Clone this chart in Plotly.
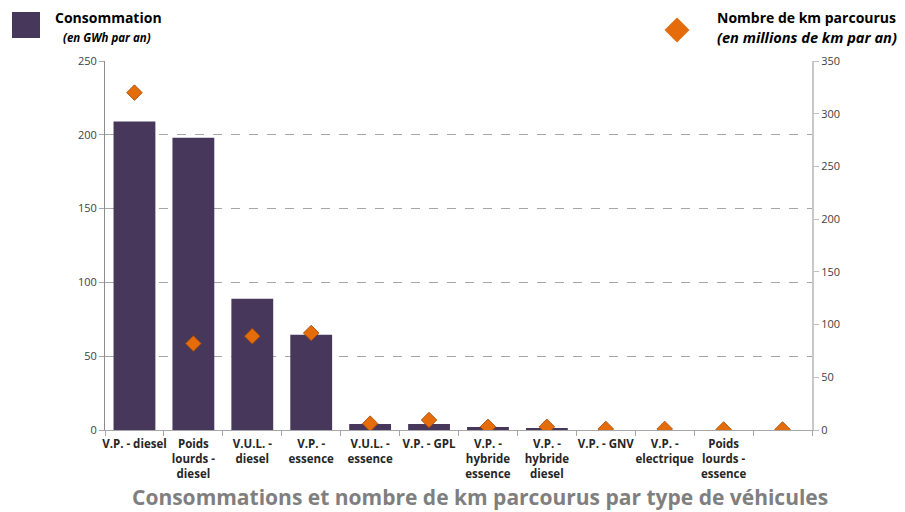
import plotly.graph_objects as go

categories = ["V.P. - diesel", "Poids<br>lourds -<br>diesel", "V.U.L. -<br>diesel", "V.P. -<br>essence",
              "V.U.L. -<br>essence", "V.P. - GPL", "V.P. -<br>hybride<br>essence", "V.P. -<br>hybride<br>diesel",
              "V.P. - GNV", "V.P. -<br>electrique", "Poids<br>lourds -<br>essence", " "]
consommation = [209, 198, 89, 64.5, 4, 4, 2, 1.2, 0, 0, 0, 0]
km_parcourus = [320, 82, 89, 92, 6, 9.5, 3, 3, 1, 1, 0.5, 0.5]

BAR = "#47375A"
ORANGE = "#E46C0A"
FONT = "Open Sans"

L, R, T, B = 105, 93, 61, 82
W, H = 905, 512
PW, PH = W - L - R, H - T - B

def px(x):
    return (x - L) / PW

def py(y):
    return (T + PH - y) / PH

fig = go.Figure()
fig.add_trace(go.Bar(x=categories, y=consommation, marker=dict(color=BAR, line=dict(width=0)),
                     width=0.71, showlegend=False, name="Consommation"))
fig.add_trace(go.Scatter(x=categories, y=km_parcourus, yaxis="y2", mode="markers",
                         marker=dict(symbol="diamond", size=12, color=ORANGE,
                                     line=dict(color="#A04A08", width=0.8)),
                         showlegend=False, name="Nombre de km parcourus"))

fig.update_layout(
    width=W, height=H,
    margin=dict(l=L, r=R, t=T, b=B),
    plot_bgcolor="white", paper_bgcolor="white",
    font=dict(family=FONT, color="#404040", size=11),
    xaxis=dict(type="category", range=[-0.5, len(categories) - 0.5], tickson="boundaries",
               ticks="outside", ticklen=5, ticklabelstandoff=3,
               tickcolor="#A6A6A6", showline=True, linecolor="#A6A6A6", linewidth=1,
               showgrid=False, tickfont=dict(family=FONT, size=11.5, color="#262626", weight="bold"),
               tickangle=0),
    yaxis=dict(range=[0, 250], dtick=50, ticks="outside", ticklen=5, tickcolor="#A6A6A6",
               showline=True, linecolor="#8C8C8C", linewidth=1, showgrid=True,
               gridcolor="#A6A6A6", griddash="dash", gridwidth=1, zeroline=False,
               tickfont=dict(size=11, color="#404040")),
    yaxis2=dict(range=[0, 350], dtick=50, overlaying="y", side="right", ticks="outside",
                ticklen=5, tickcolor="#BFBFBF", showline=True, linecolor="#C8C8C8", linewidth=2,
                showgrid=False, zeroline=False, tickfont=dict(size=11, color="#404040")),
)

shapes = [
    dict(type="rect", xref="paper", yref="paper", x0=px(12), x1=px(40), y0=py(38), y1=py(12),
         fillcolor=BAR, line=dict(width=0)),
    dict(type="path", xref="paper", yref="paper", xsizemode="pixel", ysizemode="pixel",
         xanchor=px(677), yanchor=py(30), path="M -12.5 0 L 0 12.5 L 12.5 0 L 0 -12.5 Z",
         fillcolor=ORANGE, line=dict(width=0)),
]
fig.update_layout(shapes=shapes)

ann = [
    dict(text="<b>Consommation</b>", x=px(53), y=py(18), xanchor="left", yanchor="middle",
         font=dict(size=14, color="#000000")),
    dict(text="<b><i>(en GWh par an)</i></b>", x=px(107), y=py(37), xanchor="center", yanchor="middle",
         font=dict(size=11.5, color="#000000")),
    dict(text="<b>Nombre de km parcourus</b>", x=px(898), y=py(17), xanchor="right", yanchor="middle",
         font=dict(size=14, color="#000000")),
    dict(text="<b><i>(en millions de km par an)</i></b>", x=px(899), y=py(37), xanchor="right",
         yanchor="middle", font=dict(size=14.6, color="#000000")),
    dict(text="<b>Consommations et nombre de km parcourus par type de véhicules</b>", x=px(480),
         y=py(497), xanchor="center", yanchor="middle", font=dict(size=21, color="#7F7F7F")),
]
for a in ann:
    a.update(xref="paper", yref="paper", showarrow=False)
fig.update_layout(annotations=ann)

fig.write_html("out.html", config={"displayModeBar": False},
               post_script="document.body.style.margin='0';document.body.style.padding='0';"
                           "document.body.style.overflow='hidden';")
